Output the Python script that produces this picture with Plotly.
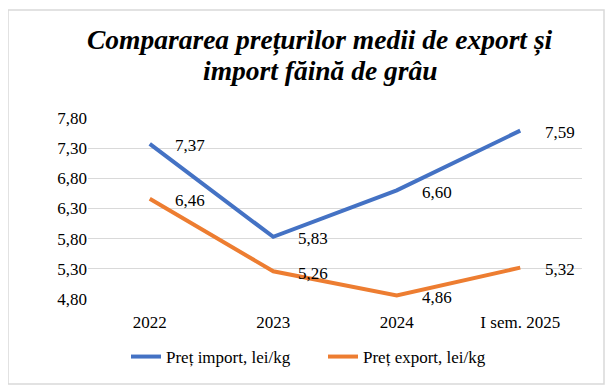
import plotly.graph_objects as go

categories = ["2022", "2023", "2024", "I sem. 2025"]
import_prices = [7.37, 5.83, 6.60, 7.59]
export_prices = [6.46, 5.26, 4.86, 5.32]
y_ticks = [4.80, 5.30, 5.80, 6.30, 6.80, 7.30, 7.80]
series_names = ["Preț import, lei/kg", "Preț export, lei/kg"]
colors = ["#4472C4", "#ED7D31"]
title_lines = ["Compararea prețurilor medii de export și", "import făină de grâu"]

FONT = "Liberation Serif"
# page body has an 8px margin; figure coordinates are reference coordinates - 8
W, H = 608, 382
L, R, T, B = 80, 34, 110, 91
PW, PH = W - L - R, H - T - B


def px(x):
    return (x - L) / PW


def py(y):
    return (H - B - y) / PH


fig = go.Figure()
for name, vals, col in zip(series_names, [import_prices, export_prices], colors):
    fig.add_trace(go.Scatter(x=categories, y=vals, mode="lines", name=name,
                             line=dict(color=col, width=4)))
    for i, v in enumerate(vals):
        fig.add_annotation(x=i, y=v, text=f"{v:.2f}".replace(".", ","),
                           showarrow=False, xanchor="left", yanchor="middle",
                           xshift=23, yshift=-2,
                           font=dict(family=FONT, size=17, color="#000"))

for i, line in enumerate(title_lines):
    fig.add_annotation(xref="paper", yref="paper", x=px(312), y=py(43 + 30 * i),
                       text=f"<b><i>{line}</i></b>", showarrow=False,
                       xanchor="center", yanchor="bottom", yshift=-7,
                       font=dict(family=FONT, size=27.5, color="#000"))

fig.update_layout(
    width=W, height=H,
    margin=dict(l=L, r=R, t=T, b=B),
    paper_bgcolor="white", plot_bgcolor="white",
    font=dict(family=FONT, size=17, color="#000"),
    showlegend=True,
    legend=dict(orientation="h", x=px(118), xanchor="left", y=py(349), yanchor="middle",
                entrywidth=152, entrywidthmode="pixels",
                font=dict(family=FONT, size=17)),
    xaxis=dict(type="category", range=[-0.5, 3.5], showgrid=False, showline=False,
               ticks="outside", ticklen=8, tickcolor="rgba(0,0,0,0)",
               tickfont=dict(family=FONT, size=17)),
    yaxis=dict(range=[4.8, 7.8], tickvals=y_ticks,
               ticktext=[f"{t:.2f}".replace(".", ",") for t in y_ticks],
               showgrid=True, gridcolor="#D9D9D9", gridwidth=1,
               zeroline=False, showline=False, ticks="",
               tickfont=dict(family=FONT, size=17)),
)
fig.add_shape(type="rect", xref="paper", yref="paper",
              x0=px(0), x1=px(596), y0=py(376), y1=py(2),
              line=dict(color="#D9D9D9", width=1.5), layer="below")
fig.write_html("out.html")
